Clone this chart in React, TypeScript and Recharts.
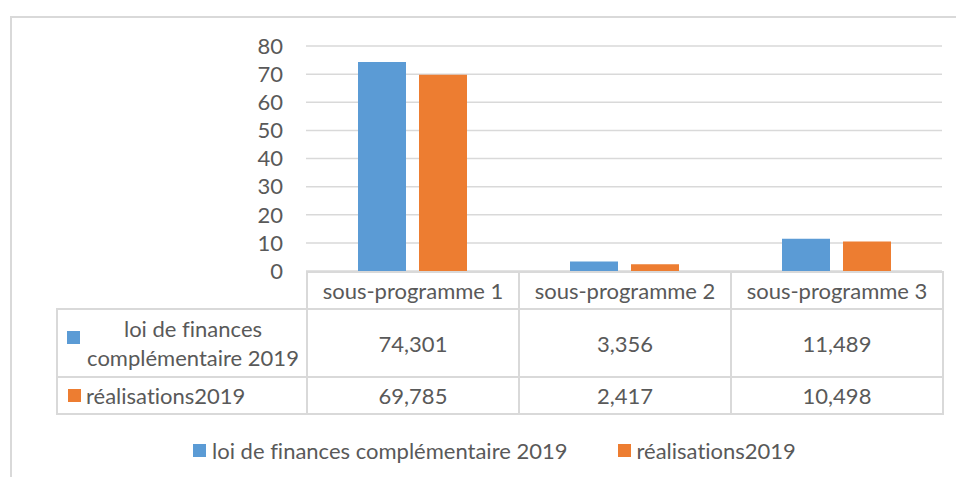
import React from 'react'
import { BarChart, Bar, XAxis, YAxis, CartesianGrid, Legend } from 'recharts'

const categories = ['sous-programme 1', 'sous-programme 2', 'sous-programme 3']
const loiValues = [74.301, 3.356, 11.489]
const realValues = [69.785, 2.417, 10.498]
const loiLabels = ['74,301', '3,356', '11,489']
const realLabels = ['69,785', '2,417', '10,498']
const yTicks = [0, 10, 20, 30, 40, 50, 60, 70, 80]

const seriesNames = ['loi de finances complémentaire 2019', 'réalisations2019']
const seriesColors = ['#5b9bd5', '#ed7d31']

const data = categories.map((c, i) => ({ name: c, loi: loiValues[i], real: realValues[i] }))

const FONT = 'Lato, "Open Sans", sans-serif'
const TEXT = '#595959'
const LINE = '2px solid #d9d9d9'

const Square = ({ color }: { color: string }) => (
  <span style={{ display: 'inline-block', width: 13, height: 13, background: color, flex: 'none' }} />
)

const LegendContent = (props: any) => {
  const items = props.payload || []
  return (
    <div style={{ display: 'flex', alignItems: 'center', gap: 50, fontFamily: FONT, fontSize: 22, color: TEXT, fontVariantLigatures: 'none' }}>
      {items.map((it: any) => (
        <div key={it.value} style={{ display: 'flex', alignItems: 'center', gap: 6 }}>
          <Square color={it.color} />
          <span>{it.value}</span>
        </div>
      ))}
    </div>
  )
}

const cell: React.CSSProperties = { border: LINE, textAlign: 'center', padding: 0 }

export default function App() {
  return (
    <div style={{ position: 'absolute', left: 0, top: 0, width: 956, height: 477, overflow: 'hidden', background: '#fff', fontFamily: FONT, color: TEXT, fontVariantLigatures: 'none' }}>
      {/* chart frame */}
      <div style={{ position: 'absolute', left: 10, top: 16, width: 980, height: 500, border: LINE }} />

      <div style={{ position: 'absolute', left: 0, top: 0 }}>
        <BarChart
          width={956}
          height={477}
          data={data}
          margin={{ top: 46, right: 14, left: 0, bottom: 206 }}
          barCategoryGap={52}
          barGap={13}
        >
          <CartesianGrid vertical={false} stroke="#d9d9d9" strokeWidth={1.5} />
          <XAxis dataKey="name" hide />
          <YAxis
            width={306}
            domain={[0, 80]}
            ticks={yTicks}
            interval={0}
            axisLine={false}
            tickLine={false}
            tickSize={0}
            tickMargin={23}
            tick={{ fill: TEXT, fontSize: 22, fontFamily: FONT }}
          />
          <Bar dataKey="loi" name={seriesNames[0]} fill={seriesColors[0]} isAnimationActive={false} />
          <Bar dataKey="real" name={seriesNames[1]} fill={seriesColors[1]} isAnimationActive={false} />
          {/* middle + horizontal keeps the legend out of the plot offset */}
          <Legend
            layout="horizontal"
            verticalAlign="middle"
            align="center"
            content={<LegendContent />}
            wrapperStyle={{ top: 437, left: 193, width: 'auto' }}
          />
        </BarChart>
      </div>

      {/* data table */}
      <table
        style={{
          position: 'absolute',
          left: 56,
          top: 271,
          borderCollapse: 'collapse',
          tableLayout: 'fixed',
          fontFamily: FONT,
          fontSize: 22,
          color: TEXT,
        }}
      >
        <colgroup>
          <col style={{ width: 250 }} />
          {categories.map((c) => (
            <col key={c} style={{ width: 212 }} />
          ))}
        </colgroup>
        <tbody>
          <tr style={{ height: 37 }}>
            <td style={{ border: 'none' }} />
            {categories.map((c) => (
              <td key={c} style={cell}>{c}</td>
            ))}
          </tr>
          <tr style={{ height: 68 }}>
            <td style={{ border: LINE, padding: 0 }}>
              <div style={{ display: 'flex', alignItems: 'flex-start', paddingLeft: 9 }}>
                <span style={{ marginTop: 8 }}>
                  <Square color={seriesColors[0]} />
                </span>
                <div style={{ flex: 1, textAlign: 'center', lineHeight: '29px' }}>
                  loi de finances
                  <br />
                  complémentaire 2019
                </div>
              </div>
            </td>
            {loiLabels.map((v, i) => (
              <td key={i} style={cell}>{v}</td>
            ))}
          </tr>
          <tr style={{ height: 37 }}>
            <td style={{ border: LINE, padding: 0 }}>
              <div style={{ display: 'flex', alignItems: 'center', paddingLeft: 10, gap: 5 }}>
                <Square color={seriesColors[1]} />
                <span>{seriesNames[1]}</span>
              </div>
            </td>
            {realLabels.map((v, i) => (
              <td key={i} style={cell}>{v}</td>
            ))}
          </tr>
        </tbody>
      </table>
    </div>
  )
}
